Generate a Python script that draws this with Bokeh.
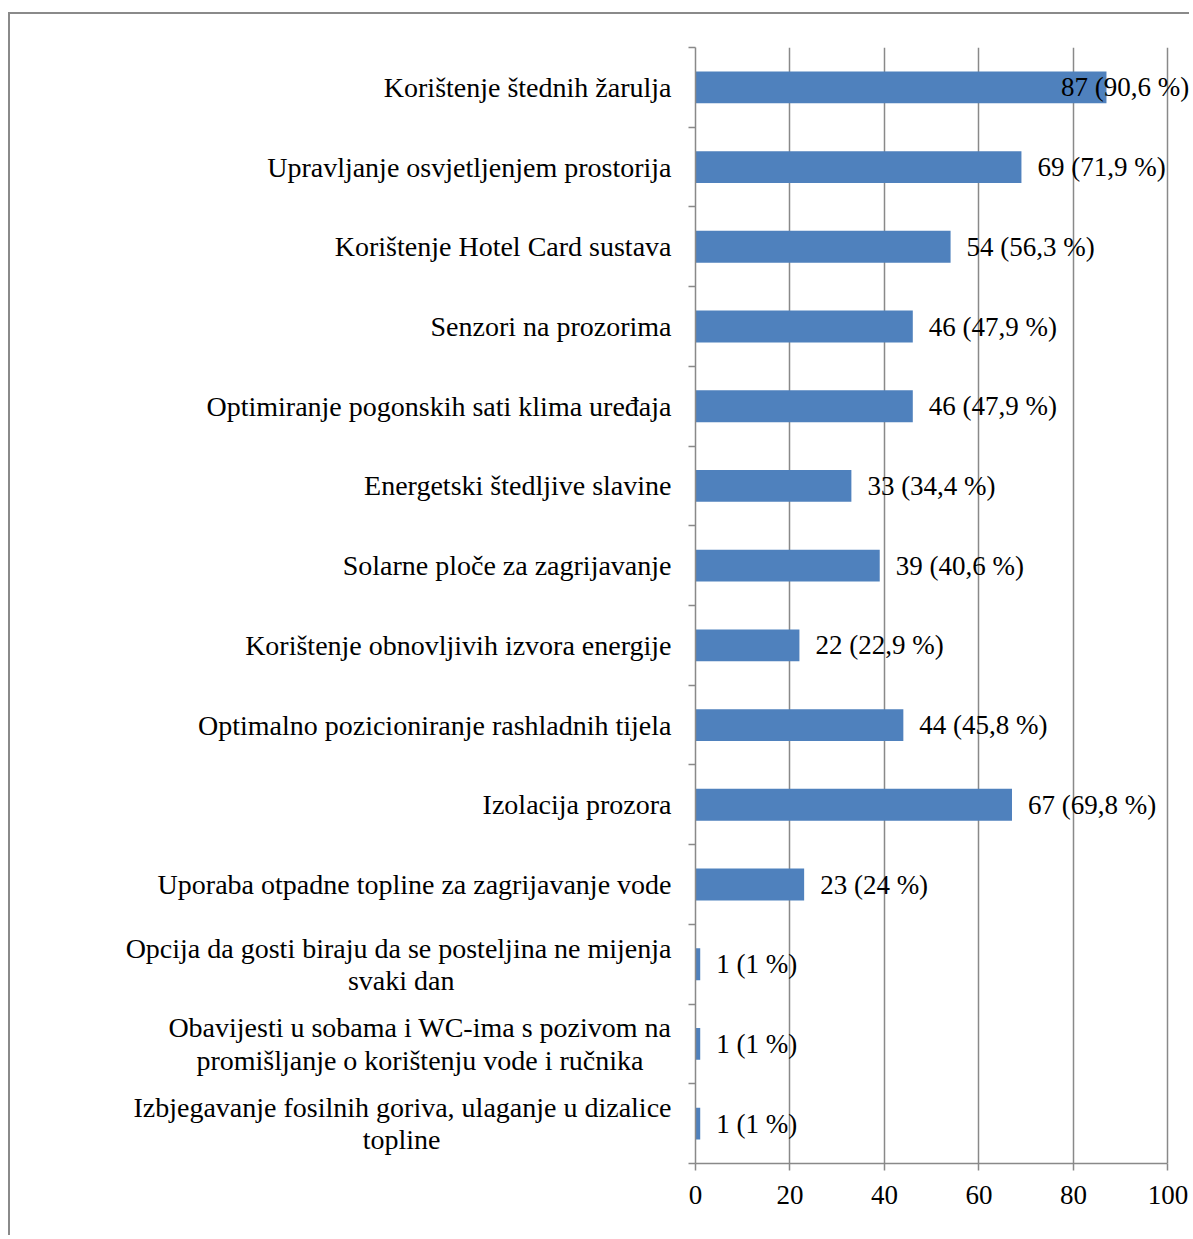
from bokeh.plotting import figure
from bokeh.models import (ColumnDataSource, Range1d, LinearAxis,
                          FixedTicker, Grid, LabelSet)
from bokeh.embed import file_html
from bokeh.resources import INLINE

categories = [
    "Korištenje štednih žarulja",
    "Upravljanje osvjetljenjem prostorija",
    "Korištenje Hotel Card sustava",
    "Senzori na prozorima",
    "Optimiranje pogonskih sati klima uređaja",
    "Energetski štedljive slavine",
    "Solarne ploče za zagrijavanje",
    "Korištenje obnovljivih izvora energije",
    "Optimalno pozicioniranje rashladnih tijela",
    "Izolacija prozora",
    "Uporaba otpadne topline za zagrijavanje vode",
    "Opcija da gosti biraju da se posteljina ne mijenja\nsvaki dan",
    "Obavijesti u sobama i WC-ima s pozivom na\npromišljanje o korištenju vode i ručnika",
    "Izbjegavanje fosilnih goriva, ulaganje u dizalice\ntopline",
]
counts = [87, 69, 54, 46, 46, 33, 39, 22, 44, 67, 23, 1, 1, 1]
percents = [90.6, 71.9, 56.3, 47.9, 47.9, 34.4, 40.6, 22.9, 45.8, 69.8, 24, 1, 1, 1]
x_ticks = [0, 20, 40, 60, 80, 100]

FONT = "Liberation Serif"
FS_CAT = "28px"
FS_VAL = "27px"
GRID = "#898989"
BAR = "#4F81BD"

n = len(categories)
ypos = [n - i - 0.5 for i in range(n)]          # category band centres, first on top
labels = [f"{c} ({p:g} %)".replace(".", ",") for c, p in zip(counts, percents)]
# data labels that would leave the chart are pulled back inside (as Excel does)
label_x = [min(c, 74) for c in counts]

# second lines of wrapped labels are centred under the first one
# (right-aligned tick labels, padded with no-break spaces)
NBSP = "\u00a0"
center_pad = {11: 31, 12: 4, 13: 33}
tick_text = []
for i, c in enumerate(categories):
    if "\n" in c:
        a, b = c.split("\n")
        c = a + "\n" + b + NBSP * center_pad.get(i, 0)
    tick_text.append(c)

src = ColumnDataSource(dict(y=ypos, val=counts, label=labels, lx=label_x))

p = figure(width=1181, height=1223, output_backend="svg", toolbar_location=None,
           y_range=Range1d(0, n), x_range=Range1d(0, 105),
           x_axis_location=None, y_axis_location=None,
           min_border_left=685, min_border_top=33, min_border_right=0,
           min_border_bottom=74)
p.styles = {"border-left": "2px solid #8a8a8a", "border-top": "2px solid #8a8a8a",
            "margin-top": "12px", "margin-left": "8px"}
p.outline_line_color = None
p.background_fill_color = "white"
p.border_fill_color = "white"
# drop the default grids; only vertical grid lines at the x ticks are wanted
p.center = [r for r in p.center if not isinstance(r, Grid)]

# x axis
xaxis = LinearAxis(ticker=FixedTicker(ticks=x_ticks), bounds=(0, 100))
xaxis.axis_line_color = GRID
xaxis.axis_line_width = 1.5
xaxis.major_tick_line_color = GRID
xaxis.major_tick_line_width = 1.5
xaxis.major_tick_out = 7
xaxis.major_tick_in = 0
xaxis.minor_tick_line_color = None
xaxis.major_label_text_font = FONT
xaxis.major_label_text_font_size = FS_VAL
xaxis.major_label_text_color = "black"
xaxis.major_label_standoff = 15
p.add_layout(xaxis, "below")

grid = Grid(dimension=0, ticker=xaxis.ticker, grid_line_color=GRID, grid_line_width=1.5)
p.add_layout(grid)

# category axis: labels at band centres, ticks (minor) between categories
yaxis = LinearAxis(ticker=FixedTicker(ticks=ypos, minor_ticks=list(range(n + 1))))
yaxis.major_label_overrides = {y: t for y, t in zip(ypos, tick_text)}
yaxis.axis_line_color = GRID
yaxis.axis_line_width = 1.5
yaxis.major_tick_line_color = None
yaxis.major_tick_out = 0
yaxis.major_tick_in = 0
yaxis.minor_tick_line_color = GRID
yaxis.minor_tick_line_width = 1.5
yaxis.minor_tick_out = 7
yaxis.minor_tick_in = 0
yaxis.major_label_text_font = FONT
yaxis.major_label_text_font_size = FS_CAT
yaxis.major_label_text_line_height = 1.04
yaxis.major_label_text_color = "black"
yaxis.major_label_standoff = 17
p.add_layout(yaxis, "left")

p.hbar(y="y", right="val", left=0, height=0.4, source=src,
       fill_color=BAR, line_color=None)

ls = LabelSet(x="lx", y="y", text="label", source=src, x_offset=16,
              text_baseline="middle", text_align="left",
              text_font=FONT, text_font_size=FS_VAL, text_color="black")
p.add_layout(ls)

open("out.html", "w").write(file_html(p, INLINE))
